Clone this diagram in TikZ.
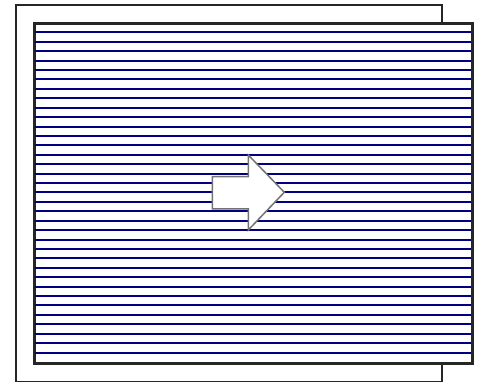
\documentclass[tikz,border=0pt]{standalone}
\begin{document}
\begin{tikzpicture}[x=1pt,y=-1pt,
  frame/.style={draw=black!85,line width=2pt},
  stripe/.style={draw={rgb,255:red,0;green,0;blue,128},line width=2pt},
  arrowshape/.style={draw=black!55,fill=white,line width=1.5pt,line join=miter}]
\useasboundingbox (0,0) rectangle (480,382);
\node[frame,fill=white,minimum width=426pt,minimum height=377pt,inner sep=0pt,anchor=north west] (outer) at (15,4) {};
\node[frame,fill=white,minimum width=437pt,minimum height=339pt,inner sep=0pt,anchor=north west] (inner) at (33.5,23) {};
\foreach \k in {1,...,35}{
  \draw[stripe] (33.5,{23+\k*339/36}) -- (470.5,{23+\k*339/36});
}
\draw[arrowshape] (212.3,176.7) -- (248.3,176.7) -- (248.3,155) -- (284.3,192.3) -- (248.3,230) -- (248.3,209) -- (212.3,209) -- cycle;
\draw[frame,fill=none] (inner.north west) rectangle (inner.south east);
\end{tikzpicture}
\end{document}
